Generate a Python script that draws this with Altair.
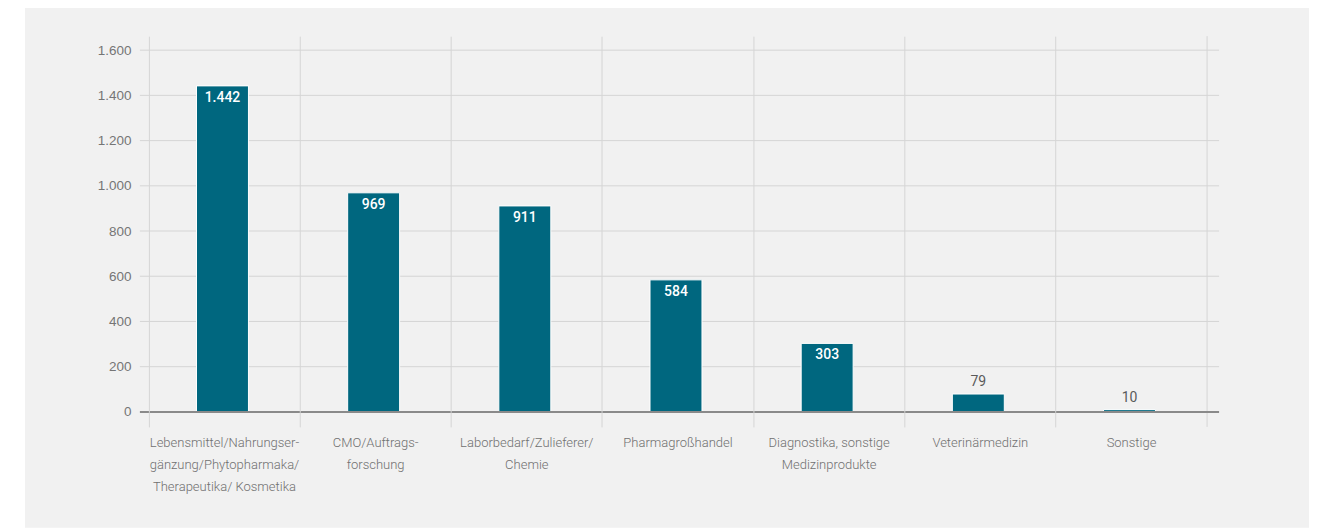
import altair as alt
import pandas as pd

categories = [
    "Lebensmittel/Nahrungser-\ngänzung/Phytopharmaka/\nTherapeutika/ Kosmetika",
    "CMO/Auftrags-\nforschung",
    "Laborbedarf/Zulieferer/\nChemie",
    "Pharmagroßhandel",
    "Diagnostika, sonstige\nMedizinprodukte",
    "Veterinärmedizin",
    "Sonstige",
]
values = [1442, 969, 911, 584, 303, 79, 10]
value_labels = ["1.442", "969", "911", "584", "303", "79", "10"]
y_ticks = [0, 200, 400, 600, 800, 1000, 1200, 1400, 1600]

df = pd.DataFrame({"cat": categories, "val": values, "lab": value_labels})
df["inside"] = df["val"] > 150
grid_df = pd.DataFrame({"v": y_ticks[1:]})

W, H = 1059, 376
FONT = "Liberation Sans"
NARROW = "Roboto"
BAR = "#00677f"
GRID = "#d5d5d5"

xenc = alt.X(
    "cat:N",
    sort=categories,
    scale=alt.Scale(paddingInner=0, paddingOuter=0),
    axis=alt.Axis(
        title=None,
        labelAngle=0,
        labelExpr="split(datum.value, '\\n')",
        labelFont=NARROW,
        labelFontSize=13,
        labelFontWeight=300,
        labelColor="#707070",
        labelLineHeight=22,
        labelPadding=10,
        labelBaseline="top",
        grid=True,
        gridColor=GRID,
        gridWidth=1,
        bandPosition=0,
        ticks=True,
        tickSize=15,
        tickColor=GRID,
        domain=False,
        zindex=1,
    ),
)
yscale = alt.Scale(domain=[0, 1600 * H / 362], nice=False)
yenc = alt.Y(
    "val:Q",
    scale=yscale,
    axis=alt.Axis(
        title=None,
        values=y_ticks,
        labelExpr="replace(format(datum.value, ','), ',', '.')",
        labelFont=FONT,
        labelFontSize=13.5,
        labelColor="#757575",
        labelPadding=18,
        ticks=False,
        tickSize=0,
        grid=False,
        domain=False,
        zindex=1,
    ),
)

bg = alt.Chart(pd.DataFrame({"a": [0]})).mark_rect(color="#f1f1f1").encode(
    x=alt.value(-124), x2=alt.value(1161), y=alt.value(-30), y2=alt.value(492)
)

hgrid = alt.Chart(grid_df).mark_rule(color=GRID, strokeWidth=1).encode(
    y=alt.Y("v:Q", scale=yscale), x=alt.value(-9), x2=alt.value(W + 12)
)

vlast = alt.Chart(pd.DataFrame({"a": [0]})).mark_rule(color=GRID, strokeWidth=1).encode(
    x=alt.value(W), y=alt.value(0), y2=alt.value(H + 15)
)

bars = alt.Chart(df).mark_bar(size=52, color=BAR, stroke="#ffffff", strokeWidth=1, xOffset=-2).encode(
    x=xenc, y=yenc
)

zero = alt.Chart(pd.DataFrame({"z": [0]})).mark_rule(color="#8a8a8a", strokeWidth=2).encode(
    y=alt.Y("z:Q", scale=yscale), x=alt.value(-9), x2=alt.value(W + 12)
)

txt_in = alt.Chart(df).transform_filter("datum.inside").mark_text(
    font="Roboto", fontSize=14, fontWeight=500, color="#ffffff", baseline="middle", dy=12, dx=-2
).encode(x=alt.X("cat:N", sort=categories), y=alt.Y("val:Q", scale=yscale), text="lab:N")

txt_out = alt.Chart(df).transform_filter("!datum.inside").mark_text(
    font="Roboto", fontSize=14, fontWeight=400, color="#5a5a5a", baseline="bottom", dy=-5, dx=-2
).encode(x=alt.X("cat:N", sort=categories), y=alt.Y("val:Q", scale=yscale), text="lab:N")

chart = alt.layer(bg, hgrid, vlast, bars, zero, txt_in, txt_out).properties(
    width=W,
    height=H,
    autosize=alt.AutoSizeParams(type="none"),
    padding={"left": 141, "top": 28, "right": 110, "bottom": 116},
    background="#ffffff",
).configure_view(stroke=None)

chart.save("out.html", embed_options={"renderer": "svg", "actions": False})
